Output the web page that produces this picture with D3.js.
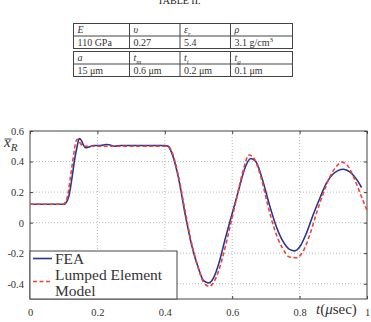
<!DOCTYPE html>
<html>
<head>
<meta charset="utf-8">
<script src="https://cdn.jsdelivr.net/npm/d3@7"></script>
<style>
  body { margin: 0; background: #fff; }
  svg { display: block; font-family: "Liberation Serif", "DejaVu Serif", serif; }
</style>
</head>
<body>
<div id="visualization"></div>
<script>
// table contents (header row, value row) for the two little tables
const tableHeads1 = [["E", ""], ["υ", ""], ["ε", "r"], ["ρ", ""]];
const tableVals1 = ["110 GPa", "0.27", "5.4", "3.1 g/cm"];
const tableHeads2 = [["a", ""], ["t", "m"], ["t", "i"], ["t", "g"]];
const tableVals2 = ["15 μm", "0.6 μm", "0.2 μm", "0.1 μm"];

// FEA curve (blue, solid)
const tFEA = [0, 0.10, 0.105, 0.115, 0.125, 0.133, 0.14, 0.146, 0.152, 0.158, 0.165, 0.175, 0.19, 0.21, 0.225, 0.235, 0.25, 0.27, 0.30, 0.35, 0.40, 0.41, 0.42, 0.44, 0.46, 0.48, 0.50, 0.515, 0.53, 0.545, 0.56, 0.58, 0.60, 0.62, 0.635, 0.655, 0.67, 0.69, 0.71, 0.73, 0.75, 0.77, 0.786, 0.80, 0.82, 0.84, 0.86, 0.88, 0.90, 0.93, 0.95, 0.97, 0.984];
const xFEA = [0.12, 0.12, 0.125, 0.17, 0.30, 0.42, 0.50, 0.55, 0.54, 0.51, 0.49, 0.495, 0.505, 0.505, 0.512, 0.51, 0.50, 0.505, 0.505, 0.505, 0.505, 0.50, 0.46, 0.30, 0.06, -0.15, -0.30, -0.38, -0.395, -0.36, -0.27, -0.10, 0.06, 0.22, 0.34, 0.42, 0.40, 0.28, 0.12, -0.02, -0.12, -0.175, -0.185, -0.16, -0.07, 0.05, 0.16, 0.26, 0.32, 0.35, 0.33, 0.28, 0.23];

// lumped element model (red, dashed)
const tLumped = [0, 0.098, 0.104, 0.112, 0.12, 0.128, 0.135, 0.14, 0.146, 0.155, 0.165, 0.2, 0.41, 0.42, 0.44, 0.46, 0.48, 0.50, 0.515, 0.532, 0.55, 0.57, 0.59, 0.61, 0.63, 0.65, 0.665, 0.685, 0.705, 0.725, 0.75, 0.77, 0.791, 0.81, 0.83, 0.85, 0.87, 0.89, 0.91, 0.925, 0.94, 0.96, 0.98, 1.0];
const xLumped = [0.12, 0.12, 0.13, 0.18, 0.30, 0.42, 0.52, 0.545, 0.53, 0.505, 0.50, 0.50, 0.50, 0.47, 0.31, 0.08, -0.14, -0.30, -0.39, -0.417, -0.37, -0.24, -0.06, 0.13, 0.32, 0.443, 0.42, 0.30, 0.12, -0.04, -0.17, -0.225, -0.23, -0.19, -0.08, 0.06, 0.19, 0.30, 0.37, 0.396, 0.38, 0.30, 0.19, 0.08];

const xTicks = [0, 0.2, 0.4, 0.6, 0.8, 1];
const yTicks = [-0.4, -0.2, 0, 0.2, 0.4, 0.6];
const legendNames = ["FEA", "Lumped Element", "Model"];

function main() {
    let width = 371, height = 322;
    let svg = d3.select("#visualization").append("svg")
        .attr("width", width).attr("height", height);

    // ---- title + tables ----
    svg.append("text").attr("x", 179).attr("y", 4)
        .attr("text-anchor", "middle").attr("font-size", 10).attr("fill", "#222")
        .text("TABLE II.");

    let colX = [73.5, 129.5, 180, 230.5, 292.5];
    function drawTable(top, heads, vals, sup) {
        let rowH = 12.5;
        let g = svg.append("g");
        g.append("rect").attr("x", colX[0]).attr("y", top)
            .attr("width", colX[4] - colX[0]).attr("height", rowH * 2)
            .attr("fill", "none").attr("stroke", "#444").attr("stroke-width", 1);
        g.append("line").attr("x1", colX[0]).attr("x2", colX[4])
            .attr("y1", top + rowH).attr("y2", top + rowH)
            .attr("stroke", "#444");
        for (let i = 1; i < 4; i++) {
            g.append("line").attr("x1", colX[i]).attr("x2", colX[i])
                .attr("y1", top).attr("y2", top + rowH * 2).attr("stroke", "#444");
        }
        heads.forEach((h, i) => {
            let t = g.append("text").attr("x", colX[i] + 4).attr("y", top + 9.5)
                .attr("font-size", 10).attr("font-style", "italic").attr("fill", "#333");
            t.append("tspan").text(h[0]);
            if (h[1]) t.append("tspan").attr("dy", 2.5).attr("font-size", 7).text(h[1]);
        });
        vals.forEach((v, i) => {
            let t = g.append("text").attr("x", colX[i] + 4).attr("y", top + rowH + 9.5)
                .attr("font-size", 10).attr("fill", "#333");
            t.append("tspan").text(v);
            if (sup && i === 3) t.append("tspan").attr("dy", -4).attr("font-size", 7).text("3");
        });
    }
    drawTable(23.5, tableHeads1, tableVals1, true);
    drawTable(51.5, tableHeads2, tableVals2, false);

    // ---- plot ----
    let left = 30, right = 367, top = 131, bottom = 299;
    let x = d3.scaleLinear().domain([0, 1]).range([left, right]);
    let y = d3.scaleLinear().domain([-0.5, 0.6]).range([bottom, top]);

    // dotted grid
    svg.append("g").selectAll("line").data(xTicks.slice(1, -1)).enter().append("line")
        .attr("x1", d => x(d)).attr("x2", d => x(d))
        .attr("y1", top).attr("y2", bottom)
        .attr("stroke", "#aaa").attr("stroke-width", 0.8).attr("stroke-dasharray", "1,2");
    svg.append("g").selectAll("line").data(yTicks.slice(0, -1)).enter().append("line")
        .attr("x1", left).attr("x2", right)
        .attr("y1", d => y(d)).attr("y2", d => y(d))
        .attr("stroke", "#aaa").attr("stroke-width", 0.8).attr("stroke-dasharray", "1,2");

    // axes, matlab style with ticks inside on all sides
    let axB = svg.append("g").attr("transform", `translate(0,${bottom})`)
        .call(d3.axisBottom(x).tickValues(xTicks).tickSizeInner(-3).tickSizeOuter(0).tickPadding(10)
            .tickFormat(d => d === 0 || d === 1 ? d3.format("d")(d) : d3.format(".1f")(d)));
    let axT = svg.append("g").attr("transform", `translate(0,${top})`)
        .call(d3.axisTop(x).tickValues(xTicks).tickSizeInner(-3).tickSizeOuter(0).tickFormat(""));
    let axL = svg.append("g").attr("transform", `translate(${left},0)`)
        .call(d3.axisLeft(y).tickValues(yTicks).tickSizeInner(-3).tickSizeOuter(0).tickPadding(6)
            .tickFormat(d => d === 0 ? "0" : d3.format(".1f")(d).replace("−", "-")));
    let axR = svg.append("g").attr("transform", `translate(${right},0)`)
        .call(d3.axisRight(y).tickValues(yTicks).tickSizeInner(-3).tickSizeOuter(0).tickFormat(""));
    [axB, axT, axL, axR].forEach(a => {
        a.attr("font-family", null);
        a.select(".domain").remove();
        a.selectAll("line").attr("stroke", "#444");
        a.selectAll("text").attr("font-family", "Liberation Serif, serif")
            .attr("font-size", 10.5).attr("fill", "#333");
    });

    // frame
    svg.append("rect").attr("x", left).attr("y", top)
        .attr("width", right - left).attr("height", bottom - top)
        .attr("fill", "none").attr("stroke", "#444").attr("stroke-width", 1);

    let line = d3.line().x(d => x(d[0])).y(d => y(d[1])).curve(d3.curveMonotoneX);
    svg.append("path").datum(d3.zip(tFEA, xFEA))
        .attr("d", line).attr("fill", "none")
        .attr("stroke", "#2a3593").attr("stroke-width", 1.6);
    svg.append("path").datum(d3.zip(tLumped, xLumped))
        .attr("d", line).attr("fill", "none")
        .attr("stroke", "#ee4438").attr("stroke-width", 1.6).attr("stroke-dasharray", "4,2.5");

    // y label  x̄_R
    let yl = svg.append("text").attr("x", 4).attr("y", 147)
        .attr("font-size", 15).attr("font-style", "italic").attr("fill", "#333");
    yl.append("tspan").text("x");
    yl.append("tspan").attr("dy", 4).attr("font-size", 11).text("R");
    svg.append("line").attr("x1", 4.5).attr("x2", 11.5).attr("y1", 139).attr("y2", 139)
        .attr("stroke", "#333").attr("stroke-width", 0.9);

    // x label
    let xl = svg.append("text").attr("x", 316).attr("y", 314)
        .attr("font-size", 15).attr("fill", "#333");
    xl.append("tspan").attr("font-style", "italic").text("t");
    xl.append("tspan").text("(");
    xl.append("tspan").attr("font-style", "italic").text("μ");
    xl.append("tspan").text("sec)");

    // legend
    let lg = svg.append("g");
    lg.append("rect").attr("x", 30).attr("y", 251).attr("width", 147).attr("height", 48)
        .attr("fill", "#fff").attr("stroke", "#444").attr("stroke-width", 1);
    lg.append("line").attr("x1", 33).attr("x2", 52).attr("y1", 258.5).attr("y2", 258.5)
        .attr("stroke", "#2a3593").attr("stroke-width", 1.6);
    lg.append("line").attr("x1", 33).attr("x2", 52).attr("y1", 281.5).attr("y2", 281.5)
        .attr("stroke", "#ee4438").attr("stroke-width", 1.6).attr("stroke-dasharray", "4,2.5");
    let legY = [264, 280, 296];
    lg.selectAll("text.leg").data(legendNames).enter().append("text")
        .attr("class", "leg")
        .attr("x", 55).attr("y", (d, i) => legY[i])
        .attr("font-size", 15.5).attr("fill", "#333")
        .text(d => d);
}

window.onload = () => { main(); };
</script>
</body>
</html>
